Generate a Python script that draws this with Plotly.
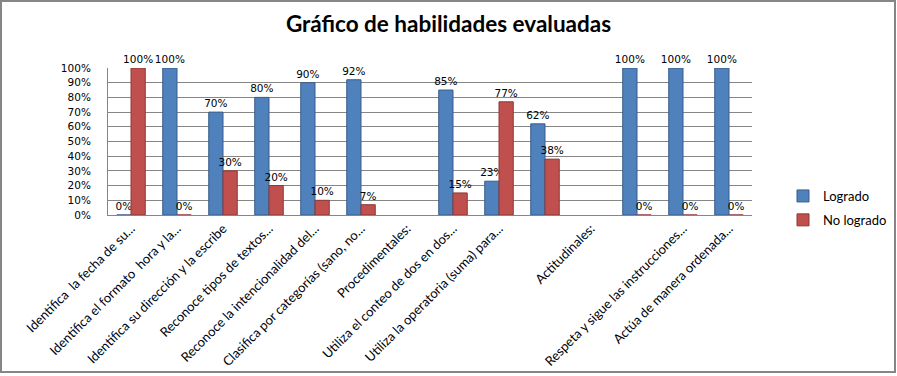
import plotly.graph_objects as go

categories = [
    "Identifica  la fecha de su...",
    "Identifica el formato  hora y la...",
    "Identifica su dirección y la escribe",
    "Reconoce tipos de textos...",
    "Reconoce la intencionalidad del...",
    "Clasifica por categorías (sano, no...",
    "Procedimentales:",
    "Utiliza el conteo de dos en dos...",
    "Utiliza la operatoria (suma) para...",
    "",
    "Actitudinales:",
    "",
    "Respeta y sigue las instrucciones...",
    "Actúa de manera ordenada...",
]
logrado = [0, 100, 70, 80, 90, 92, None, 85, 23, 62, None, 100, 100, 100]
no_logrado = [100, 0, 30, 20, 10, 7, None, 15, 77, 38, None, 0, 0, 0]
y_ticks = list(range(0, 101, 10))
y_tick_labels = [f"{v}%" for v in y_ticks]

W, H = 897, 376
L, R, T, B = 108, 145, 68, 161
PW, PH = W - L - R, H - T - B

x_idx = list(range(len(categories)))

def labels(vals):
    return [("" if v is None else f"{v}%") for v in vals]

num_font = dict(family="DejaVu Sans", size=10.5, color="#000000")

fig = go.Figure()
fig.add_trace(go.Bar(
    x=x_idx, y=logrado, name="Logrado", legendgroup="a",
    marker=dict(color="#4F81BD", line=dict(color="#385D8A", width=1)),
    text=labels(logrado), textposition="outside", cliponaxis=False,
    constraintext="none", textangle=0, textfont=num_font,
))
fig.add_trace(go.Bar(
    x=x_idx, y=no_logrado, name="No logrado", legendgroup="b",
    marker=dict(color="#C0504D", line=dict(color="#8C3836", width=1)),
    text=labels(no_logrado), textposition="outside", cliponaxis=False,
    constraintext="none", textangle=0, textfont=num_font,
))

fig.update_layout(
    width=W, height=H,
    margin=dict(l=L, r=R, t=T, b=B, autoexpand=False),
    paper_bgcolor="white", plot_bgcolor="white",
    barmode="group", bargap=0.38, bargroupgap=0.0,
    title=dict(text="<b>Gráfico de habilidades evaluadas</b>",
               x=0.5, xanchor="center", y=1 - 24 / H, yanchor="middle",
               font=dict(family="Lato", size=22.5, color="#000000")),
    font=dict(family="Lato", size=13, color="#000000"),
    showlegend=True,
    legend=dict(x=(783 - L) / PW, y=(H - B - 208) / PH, xanchor="left", yanchor="middle",
                font=dict(family="Lato", size=13, color="#000000"),
                itemwidth=30, traceorder="grouped", tracegroupgap=4,
                bgcolor="rgba(0,0,0,0)"),
    xaxis=dict(tickmode="array", tickvals=x_idx, ticktext=categories,
               tickangle=-45, range=[-0.5, len(categories) - 0.5],
               showgrid=False, showline=True, linecolor="#868686",
               ticks="", automargin=False,
               tickfont=dict(family="Lato", size=13)),
    yaxis=dict(range=[0, 100], tickmode="array", tickvals=y_ticks,
               ticktext=y_tick_labels, showgrid=True, gridcolor="#868686",
               gridwidth=1, zeroline=False, showline=True, linecolor="#868686",
               ticks="", ticklabelstandoff=14, automargin=False,
               tickfont=num_font),
    shapes=[dict(type="rect", xref="paper", yref="paper",
                 x0=-(L - 1) / PW, x1=1 + (R - 2) / PW,
                 y0=-(B - 4) / PH, y1=1 + (T - 1) / PH,
                 line=dict(color="#868686", width=2), fillcolor="rgba(0,0,0,0)",
                 layer="below")],
)

fig.write_html("out.html", config={"displayModeBar": False},
               post_script="document.body.style.margin='0px';")
